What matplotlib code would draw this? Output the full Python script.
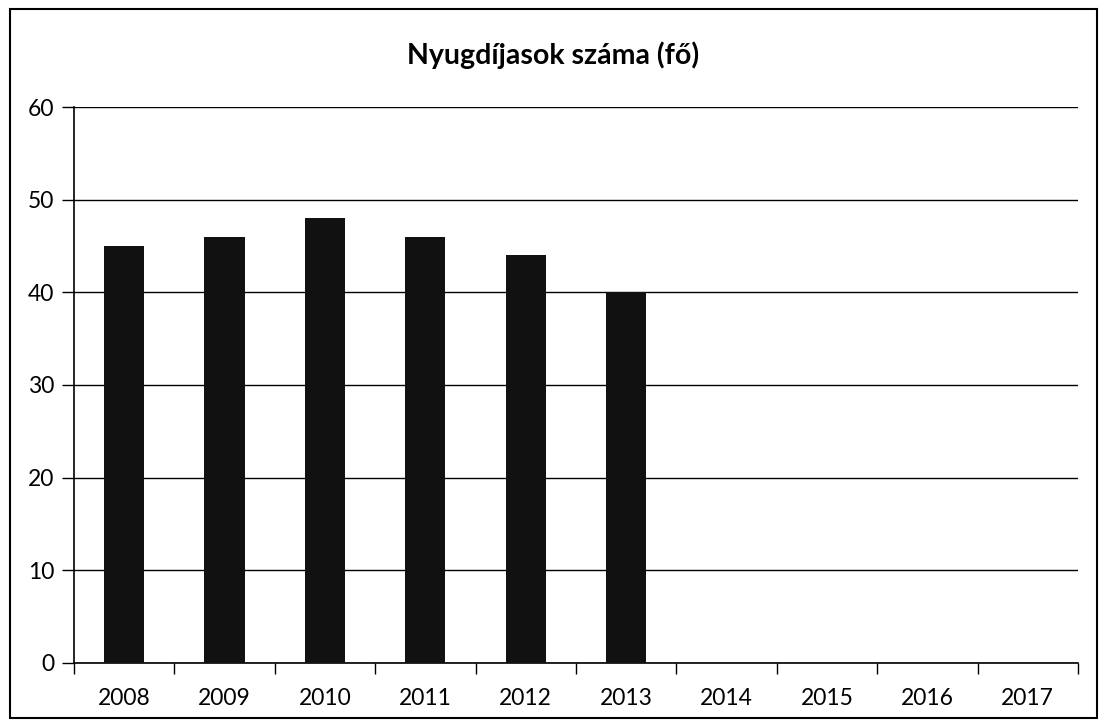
import matplotlib
matplotlib.use("Agg")
from matplotlib import pyplot as plt
from matplotlib.patches import Rectangle

years = ["2008", "2009", "2010", "2011", "2012", "2013", "2014", "2015", "2016", "2017"]
values = [45, 46, 48, 46, 44, 40, 0, 0, 0, 0]
yticks = [0, 10, 20, 30, 40, 50, 60]
title = "Nyugdíjasok száma (fő)"

plt.rcParams['font.family'] = ['Lato', 'DejaVu Sans']

fig = plt.figure(figsize=(11.07, 7.26), dpi=100)
ax = fig.add_axes([0.0668, 0.0868, 0.9070, 0.7658])

x = list(range(len(years)))
ax.bar(x, values, width=0.4, color="#111111", zorder=3)

ax.set_xlim(-0.5, len(years) - 0.5)
ax.set_ylim(0, 60)
ax.set_yticks(yticks)
ax.set_yticklabels([str(v) for v in yticks], fontsize=16.5)
ax.set_xticks(x)
ax.set_xticklabels(years, fontsize=16.5)
ax.set_xticks([i - 0.5 for i in range(len(years) + 1)], minor=True)

ax.grid(axis="y", color="black", linewidth=1, zorder=0)
ax.tick_params(axis="y", length=9, width=1, pad=5, color="black")
ax.tick_params(axis="x", which="major", length=0, pad=18)
ax.tick_params(axis="x", which="minor", length=8, width=1, color="black")

for s in ["top", "right"]:
    ax.spines[s].set_visible(False)
ax.spines["left"].set_linewidth(1.2)
ax.spines["bottom"].set_linewidth(1.2)

fig.text(0.5, 0.924, title, ha="center", va="center", fontsize=20.5, fontweight="bold")

fig.patches.append(Rectangle((0.009, 0.011), 0.982, 0.977, transform=fig.transFigure,
                             fill=False, edgecolor="black", linewidth=1.5))

fig.savefig("out.png", dpi=100)
